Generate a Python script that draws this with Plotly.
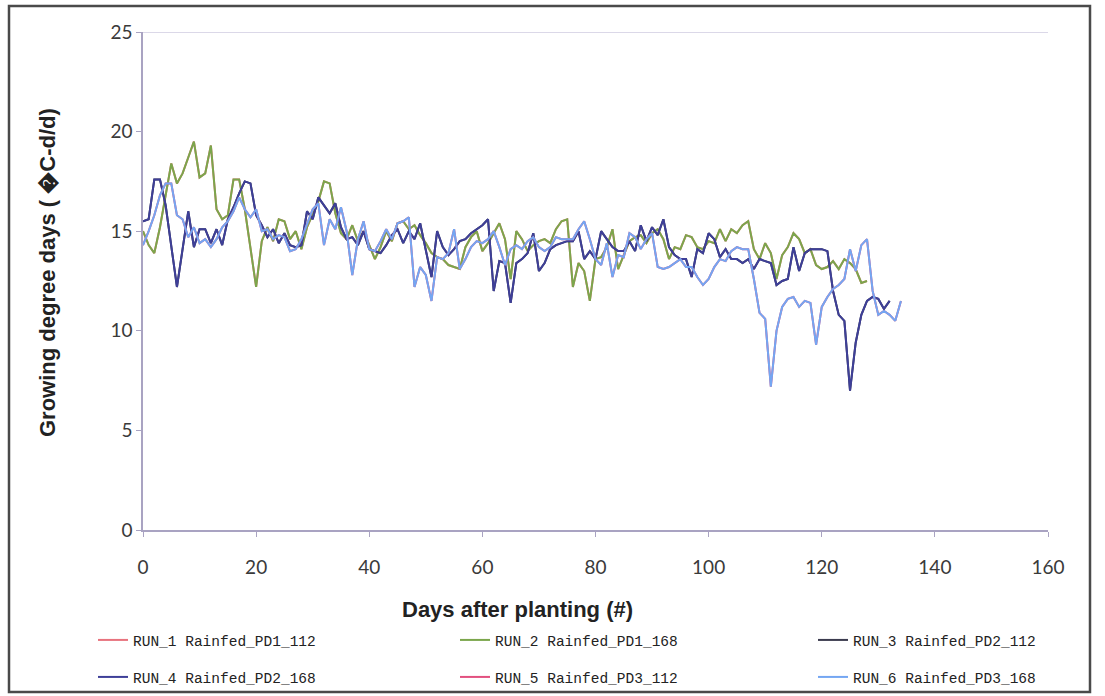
import plotly.graph_objects as go

# Daily growing degree days (degC-d/d) for three planting dates.
# Runs at 112 and 168 share the same planting date, hence the same weather series.
pd1_gdd = [
    15.0, 14.3, 13.9, 15.2, 16.8, 18.4, 17.4, 17.9, 18.7, 19.5,
    17.7, 17.9, 19.3, 16.1, 15.6, 15.8, 17.6, 17.6, 16.1, 14.2,
    12.2, 14.5, 15.2, 14.5, 15.6, 15.5, 14.6, 15.0, 14.1, 15.2,
    15.9, 16.5, 17.5, 17.4, 15.9, 14.9, 14.6, 15.3, 14.5, 15.0,
    14.3, 13.6, 14.2, 15.0, 14.5, 15.4, 15.5, 15.1, 15.3, 14.8,
    14.4, 13.9, 13.7, 13.6, 13.3, 13.2, 13.1, 14.2, 14.7, 15.0,
    14.0, 14.4, 14.9, 15.4, 14.6, 12.6, 15.0, 14.6, 14.0, 14.3,
    14.5, 14.6, 14.4, 15.1, 15.5, 15.6, 12.2, 13.4, 13.0, 11.5,
    13.6, 13.7, 14.2, 15.1, 13.1, 13.8, 14.5, 14.7, 14.8, 14.4,
    14.9, 15.1, 14.6, 13.6, 14.2, 14.1, 14.8, 14.7, 14.2, 14.1,
    14.5, 14.4, 15.1, 14.5, 15.1, 14.9, 15.3, 15.5, 14.1, 13.6,
    14.4, 13.9, 12.6, 13.8, 14.2, 14.9, 14.6, 13.9, 14.1, 13.3,
    13.1, 13.2, 13.5, 13.1, 13.6, 13.4, 13.1, 12.4, 12.5,
]

pd2_gdd = [
    15.5, 15.6, 17.6, 17.6, 16.3, 14.2, 12.2, 14.1, 16.0, 14.2,
    15.1, 15.1, 14.4, 15.1, 14.3, 15.6, 16.2, 16.9, 17.5, 17.4,
    15.8, 15.3, 14.7, 15.1, 14.4, 14.9, 14.3, 14.2, 14.3, 16.0,
    15.6, 16.7, 16.3, 15.9, 16.4, 15.2, 14.6, 14.7, 14.3, 15.0,
    14.1, 14.0, 13.9, 14.3, 14.8, 15.1, 14.4, 15.0, 14.6, 15.4,
    14.0, 12.7, 15.0, 14.2, 13.8, 14.1, 14.5, 14.6, 14.9, 15.1,
    15.3, 15.6, 12.0, 13.5, 13.4, 11.4, 13.4, 13.6, 13.9, 14.9,
    13.0, 13.4, 14.1, 14.3, 14.4, 14.5, 14.5, 15.0, 13.6, 14.0,
    13.6, 15.0, 14.6, 14.2, 14.0, 14.0, 14.5, 14.0, 15.3, 14.5,
    15.2, 14.8, 15.6, 14.2, 13.8, 13.6, 13.6, 12.7, 14.1, 13.9,
    14.9, 14.6, 13.7, 14.1, 13.6, 13.6, 13.4, 13.6, 13.1, 13.6,
    13.5, 13.4, 12.3, 12.5, 12.6, 14.2, 13.0, 13.9, 14.1, 14.1,
    14.1, 14.0, 12.0, 10.8, 10.5, 7.0, 9.4, 10.8, 11.5, 11.7,
    11.6, 11.1, 11.5,
]

pd3_gdd = [
    14.3, 15.0, 15.8, 16.8, 17.4, 17.4, 15.8, 15.6, 14.7, 15.2,
    14.4, 14.6, 14.2, 14.6, 15.2, 15.5, 16.0, 16.7, 16.1, 15.7,
    16.1, 15.0, 15.1, 14.6, 14.8, 14.7, 14.0, 14.1, 14.6, 15.4,
    16.1, 16.4, 14.3, 15.6, 15.1, 16.2, 15.0, 12.8, 14.6, 15.5,
    14.1, 14.0, 14.5, 15.1, 14.6, 15.4, 15.5, 15.7, 12.2, 13.2,
    12.8, 11.5, 13.7, 13.6, 13.9, 15.1, 13.1, 13.6, 14.2, 14.5,
    14.4, 14.6, 15.0, 14.2, 13.3, 14.1, 14.3, 14.1, 14.5, 14.7,
    14.2, 14.0, 14.2, 14.7, 14.6, 14.6, 14.6, 15.1, 15.5, 14.6,
    13.6, 13.3, 14.4, 12.7, 13.8, 13.7, 14.9, 14.7, 14.1, 14.6,
    14.9, 13.2, 13.1, 13.2, 13.4, 13.6, 13.2, 13.2, 12.7, 12.3,
    12.6, 13.2, 13.6, 13.5, 14.0, 14.2, 14.1, 14.1, 12.6, 10.9,
    10.6, 7.2, 10.0, 11.2, 11.6, 11.7, 11.2, 11.5, 11.4, 9.3,
    11.2, 11.7, 12.1, 12.3, 12.6, 14.1, 13.0, 14.3, 14.6, 12.0,
    10.8, 11.0, 10.8, 10.5, 11.5,
]

run_names = [
    "RUN_1 Rainfed_PD1_112", "RUN_2 Rainfed_PD1_168", "RUN_3 Rainfed_PD2_112",
    "RUN_4 Rainfed_PD2_168", "RUN_5 Rainfed_PD3_112", "RUN_6 Rainfed_PD3_168",
]
run_series = [pd1_gdd, pd1_gdd, pd2_gdd, pd2_gdd, pd3_gdd, pd3_gdd]
run_colors = ["#e8737e", "#7ba64c", "#3b3b4e", "#3e3f98", "#e2507f", "#74a6f2"]

x_ticks = [0, 20, 40, 60, 80, 100, 120, 140, 160]
y_ticks = [0, 5, 10, 15, 20, 25]

W, H = 1105, 696
ML, MR, MT, MB = 143, 57, 32, 166
PW, PH = W - ML - MR, H - MT - MB


def px_x(p):
    return (p - ML) / PW


def px_y(p):
    return (H - MB - p) / PH


# one legend box per entry, laid out as a 3 x 2 grid under the axis title
legend_ids = ["legend", "legend2", "legend3", "legend4", "legend5", "legend6"]
legend_cols = [93, 455, 813]
legend_rows = [640, 677]

fig = go.Figure()
for i, (name, ys, col) in enumerate(zip(run_names, run_series, run_colors)):
    fig.add_trace(go.Scatter(
        x=list(range(len(ys))), y=ys, mode="lines", name=name,
        line=dict(color=col, width=2),
        legend=legend_ids[i],
    ))

axis_line = "#a9a3c2"
tick_font = dict(family="Lato, Carlito, sans-serif", size=19, color="#3a3a3a")
title_font = dict(family="Liberation Sans, Arial, sans-serif", size=22, color="#222222")
legend_font = dict(family="Liberation Mono, monospace", size=14.5, color="#222222")

legend_layout = {}
for i, lid in enumerate(legend_ids):
    legend_layout[lid] = dict(
        orientation="h", x=px_x(legend_cols[i % 3]), y=px_y(legend_rows[i // 3]),
        xanchor="left", yanchor="middle", font=legend_font,
        bgcolor="rgba(0,0,0,0)", itemclick=False, itemdoubleclick=False,
    )

fig.update_layout(
    width=W, height=H,
    margin=dict(l=ML, r=MR, t=MT, b=MB, autoexpand=False),
    paper_bgcolor="white", plot_bgcolor="white",
    showlegend=True,
    xaxis=dict(
        range=[0, 160], tickvals=x_ticks, ticktext=[str(v) for v in x_ticks],
        showgrid=False, zeroline=False, showline=True, linecolor=axis_line, linewidth=1.5,
        ticks="outside", ticklen=5, tickcolor=axis_line, tickfont=tick_font,
        ticklabelstandoff=14,
    ),
    yaxis=dict(
        range=[0, 25], tickvals=y_ticks, ticktext=[str(v) for v in y_ticks],
        showgrid=False, zeroline=False, showline=True, linecolor=axis_line, linewidth=1.5,
        ticks="outside", ticklen=5, tickcolor=axis_line, tickfont=tick_font,
    ),
    annotations=[
        dict(text="<b>Days after planting (#)</b>", xref="paper", yref="paper",
             x=px_x(517), y=px_y(609), xanchor="center", yanchor="middle",
             showarrow=False, font=title_font),
        dict(text="<b>Growing degree days ( \ufffdC-d/d)</b>", xref="paper", yref="paper",
             x=px_x(47), y=px_y(273), xanchor="center", yanchor="middle",
             textangle=-90, showarrow=False, font=title_font),
    ],
    shapes=[
        # top boundary of the plotting area at y = 25
        dict(type="line", xref="paper", yref="y", x0=0, x1=1, y0=25, y1=25,
             line=dict(color="#cfcbe0", width=1.5)),
        # chart frame
        dict(type="rect", xref="paper", yref="paper",
             x0=px_x(9), x1=px_x(1090), y0=px_y(692), y1=px_y(6),
             line=dict(color="#4a4a4a", width=2.5), layer="below"),
    ],
    **legend_layout,
)

fig.write_html("out.html")
